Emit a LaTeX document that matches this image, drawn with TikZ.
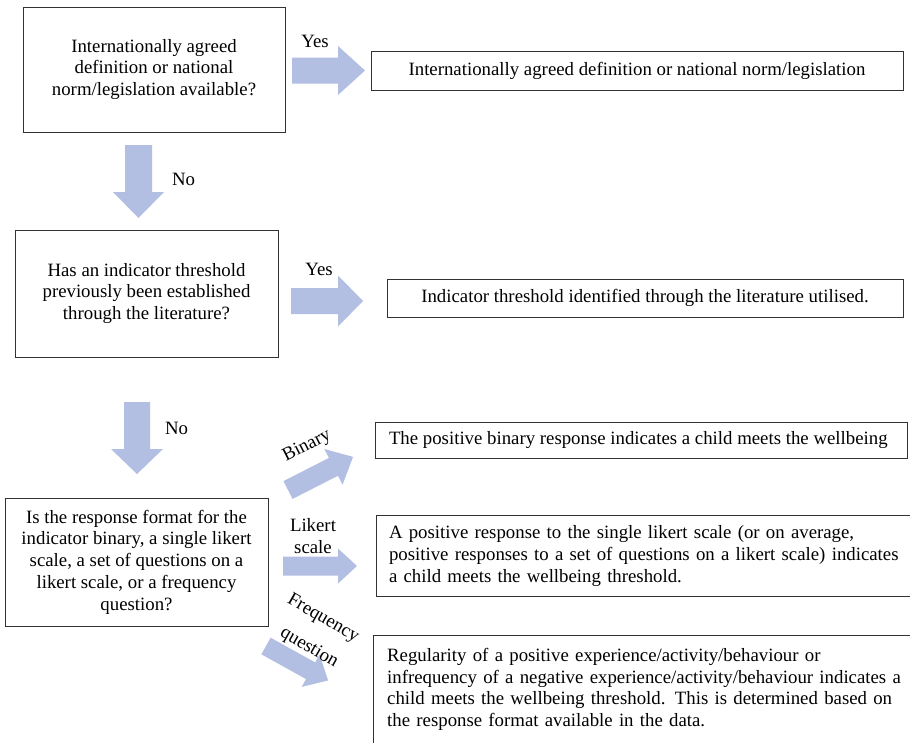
\documentclass[tikz,border=0pt]{standalone}
\usepackage{fontspec}
\setmainfont{Liberation Serif}
\definecolor{arrowfill}{RGB}{178,191,226}
\definecolor{boxline}{RGB}{50,50,50}
\newcommand\blockarrow[7]{%
  \fill[arrowfill, shift={(#1,#2)}, rotate=#3]
    (0,-#5) -- ({#4-#7},-#5) -- ({#4-#7},-#6) -- (#4,0) --
    ({#4-#7},#6) -- ({#4-#7},#5) -- (0,#5) -- cycle;}
\tikzset{
  qbox/.style={draw=boxline, line width=1pt, align=center, inner sep=0pt},
  rbox/.style={draw=boxline, line width=1pt, inner sep=0pt},
  lbl/.style={inner sep=0pt},
}
\begin{document}
\begin{tikzpicture}[x=1pt, y=-1pt, font=\fontsize{18.8}{21.75}\selectfont]
\clip (0,0) rectangle (910,742);
\fill[white] (0,0) rectangle (910,742);

% question boxes
\node[qbox, minimum width=262, minimum height=125] (q1) at (154,69.5)
  {Internationally agreed\\definition or national\\norm/legislation available?};
\node[qbox, minimum width=263, minimum height=127] (q2) at (146.5,293.5)
  {Has an indicator threshold\\previously been established\\through the literature?};
\node[qbox, minimum width=263, minimum height=128] (q3) at (136.5,562)
  {Is the response format for the\\indicator binary, a single likert\\scale, a set of questions on a\\likert scale, or a frequency\\question?};

% result boxes
\node[rbox, minimum width=532, minimum height=39] (r1) at (637,70.5)
  {Internationally agreed definition or national norm/legislation};
\node[rbox, minimum width=516, minimum height=38] (r2) at (645,298)
  {Indicator threshold identified through the literature utilised.};
\node[rbox, minimum width=532, minimum height=36] (rb) at (641,440)
  {\makebox[504pt][l]{The positive binary response indicates a child meets the wellbeing}};
\node[rbox, minimum height=81.5, text width=528, inner xsep=13pt, align=left] (rl) at (653,556)
  {A positive response to the single likert scale (or on average,\\positive responses to a set of questions on a likert scale) indicates\\a child meets the wellbeing threshold.};
\node[rbox, anchor=north west, minimum width=570, minimum height=140] (rf) at (373,635) {};
\node[lbl, anchor=north west, text width=540, align=left] (rftext) at ([xshift=14pt,yshift=-13pt]rf.north west)
  {Regularity of a positive experience/activity/behaviour or\\infrequency of a negative experience/activity/behaviour indicates a\\child meets the wellbeing threshold. This is determined based on\\the response format available in the data.};

% block arrows: tail x, tail y, angle, length, shaft half, head half, head length
\blockarrow{292}{70.5}{0}{73}{13}{24.5}{27}
\blockarrow{138.5}{145}{-90}{73}{13.5}{25.5}{26}
\blockarrow{291}{301}{0}{72}{13}{25.5}{25}
\blockarrow{137}{402}{-90}{72}{13}{26}{25}
\blockarrow{288}{490}{27}{73}{10}{20}{22}
\blockarrow{283}{566}{0}{74}{9.5}{17.5}{19}
\blockarrow{266}{646}{-29}{71}{9.5}{18.5}{20}

% labels
\node[lbl] (yes1) at (315,41) {Yes};
\node[lbl] (no1) at (183.5,179) {No};
\node[lbl] (yes2) at (319,269) {Yes};
\node[lbl] (no2) at (176.5,428) {No};
\node[lbl, rotate=27] (lbin) at (307,446) {Binary};
\node[lbl, align=center] (llik) at (313,536) {Likert\\scale};
\node[lbl, rotate=-30] (lfreq) at (323,619) {Frequency};
\node[lbl, rotate=-30] (lques) at (309,648) {question};
\end{tikzpicture}
\end{document}
